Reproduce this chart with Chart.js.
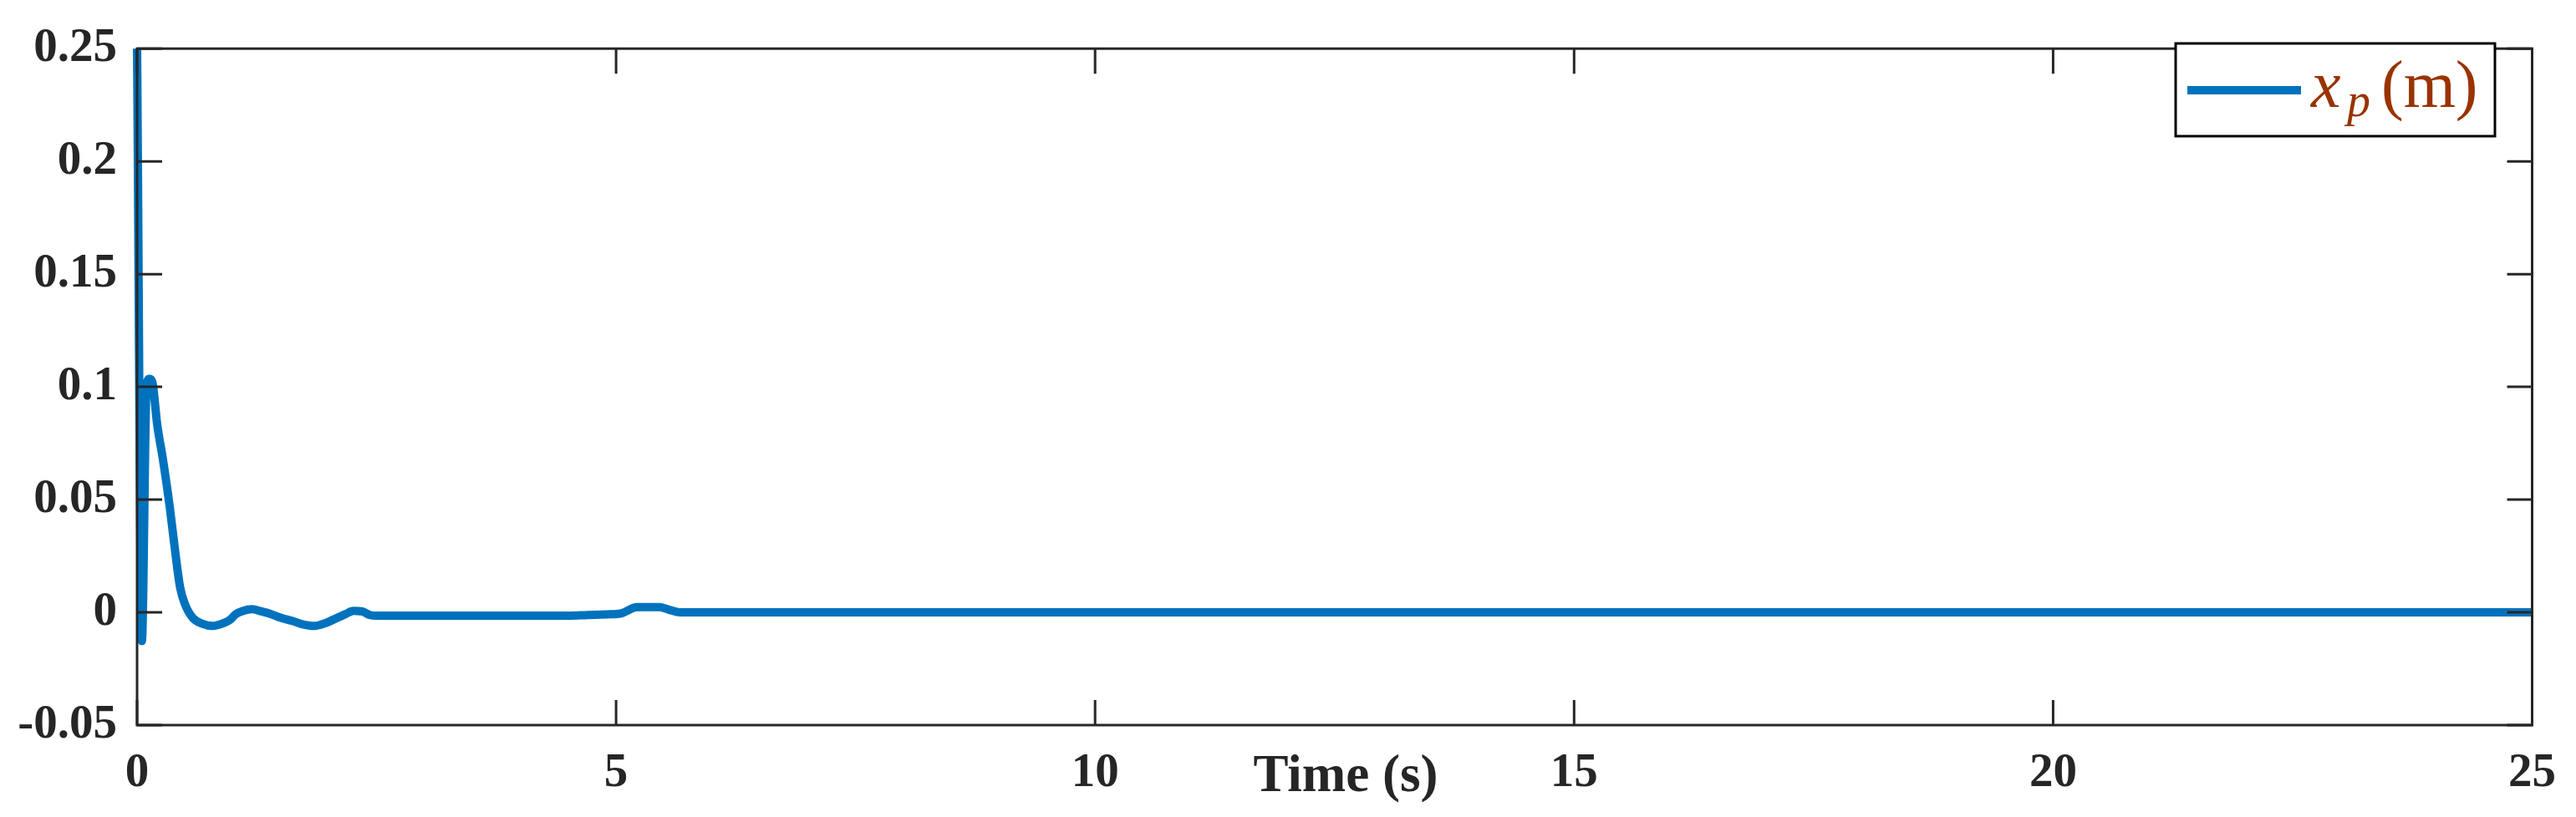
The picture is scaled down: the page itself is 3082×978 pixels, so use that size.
<!DOCTYPE html>
<html>
<head>
<meta charset="utf-8">
<script src="https://cdn.jsdelivr.net/npm/chart.js@4.4.0/dist/chart.umd.min.js"></script>
<style>
  html, body { margin: 0; padding: 0; background: #fff; }
  #wrap { width: 3082px; height: 978px; }
</style>
</head>
<body>
<div id="wrap"><canvas id="xpChart" width="3082" height="978"></canvas></div>
<script>
// time samples (s)
const timeValues = [
  0, 0.05, 0.1, 0.13, 0.16, 0.21, 0.27, 0.34, 0.41, 0.45, 0.5, 0.58, 0.68, 0.79, 0.9,
  0.97, 1.03, 1.1, 1.2, 1.3, 1.4, 1.5, 1.62, 1.72, 1.85, 1.97, 2.07, 2.17, 2.26, 2.35,
  2.43, 2.5, 4.5, 4.7, 4.9, 5.05, 5.22, 5.45, 5.55, 5.67, 25
];
// x_p (m)
const xpValues = [
  0.25, -0.0127, 0.101, 0.1036, 0.102, 0.0833, 0.0678, 0.0471, 0.0228, 0.0109, 0.0036, -0.0024, -0.005, -0.006, -0.0048,
  -0.0033, -0.0008, 0.0006, 0.0014, 0.0004, -0.0008, -0.0024, -0.0038, -0.0052, -0.006, -0.0047, -0.0028, -0.0009, 0.0007, 0.0004,
  -0.0012, -0.0015, -0.0015, -0.0012, -0.0009, -0.0005, 0.0023, 0.0023, 0.0012, 0, 0
];
const xTicks = [0, 5, 10, 15, 20, 25];
const yTicks = [-0.05, 0, 0.05, 0.1, 0.15, 0.2, 0.25];

const axisColor = '#262626';
const lineColor = '#0072BD';
const serif = "'Liberation Serif', 'Times New Roman', serif";

// MATLAB-style box with inward ticks, axis label and legend
const matlabAxes = {
  id: 'matlabAxes',
  afterDatasetsDraw(chart) {
    const { ctx, chartArea: a, scales } = chart;
    const tl = 30;
    ctx.save();
    ctx.strokeStyle = axisColor;
    ctx.lineWidth = 3;
    ctx.strokeRect(a.left, a.top, a.right - a.left, a.bottom - a.top);
    ctx.beginPath();
    xTicks.forEach(v => {
      const px = scales.x.getPixelForValue(v);
      ctx.moveTo(px, a.bottom); ctx.lineTo(px, a.bottom - tl);
      ctx.moveTo(px, a.top); ctx.lineTo(px, a.top + tl);
    });
    yTicks.forEach(v => {
      const py = scales.y.getPixelForValue(v);
      ctx.moveTo(a.left, py); ctx.lineTo(a.left + tl, py);
      ctx.moveTo(a.right, py); ctx.lineTo(a.right - tl, py);
    });
    ctx.stroke();

    // x axis title sits on the tick label row
    ctx.fillStyle = axisColor;
    ctx.font = 'bold 63px ' + serif;
    ctx.textAlign = 'center';
    ctx.textBaseline = 'alphabetic';
    ctx.fillText('Time (s)', 1610, 947);

    // legend
    const lx = 2603, ly = 52, lw = 382, lh = 111;
    ctx.fillStyle = '#fff';
    ctx.fillRect(lx, ly, lw, lh);
    ctx.strokeStyle = '#000';
    ctx.lineWidth = 3;
    ctx.strokeRect(lx, ly, lw, lh);
    ctx.strokeStyle = lineColor;
    ctx.lineWidth = 10;
    ctx.beginPath();
    ctx.moveTo(lx + 14, 108); ctx.lineTo(lx + 150, 108);
    ctx.stroke();
    ctx.fillStyle = '#993300';
    ctx.textAlign = 'left';
    ctx.font = 'italic 80px ' + serif;
    ctx.fillText('x', 2765, 128);
    ctx.font = 'italic 56px ' + serif;
    ctx.fillText('p', 2808, 139);
    ctx.font = '80px ' + serif;
    ctx.fillText('(m)', 2849, 128);
    ctx.restore();
  }
};

document.addEventListener('DOMContentLoaded', () => {
  const points = timeValues.map((t, i) => ({ x: t, y: xpValues[i] }));

  new Chart(document.getElementById('xpChart'), {
    type: 'line',
    data: {
      datasets: [{
        label: 'x_p(m)',
        data: points,
        borderColor: lineColor,
        borderWidth: 10,
        pointRadius: 0,
        fill: false,
        cubicInterpolationMode: 'monotone',
        borderJoinStyle: 'round',
        clip: false
      }]
    },
    options: {
      responsive: false,
      animation: false,
      devicePixelRatio: 1,
      layout: { padding: { left: 0, right: 49, top: 40, bottom: 0 } },
      plugins: {
        legend: { display: false },
        tooltip: { enabled: false }
      },
      scales: {
        x: {
          type: 'linear',
          min: 0,
          max: 25,
          afterFit: s => { s.height = 110; },
          afterBuildTicks: s => { s.ticks = xTicks.map(v => ({ value: v })); },
          ticks: {
            color: axisColor,
            padding: 24,
            maxRotation: 0,
            autoSkip: false,
            font: { family: serif, size: 57, weight: 'bold' },
            callback: v => String(v)
          },
          grid: { display: false, drawTicks: false },
          border: { display: false }
        },
        y: {
          min: -0.05,
          max: 0.25,
          afterFit: s => { s.width = 164; },
          afterBuildTicks: s => { s.ticks = yTicks.map(v => ({ value: v })); },
          ticks: {
            color: axisColor,
            padding: 24,
            autoSkip: false,
            font: { family: serif, size: 57, weight: 'bold' },
            callback: v => String(Math.round(v * 100) / 100)
          },
          grid: { display: false, drawTicks: false },
          border: { display: false }
        }
      }
    },
    plugins: [matlabAxes]
  });
});
</script>
</body>
</html>
